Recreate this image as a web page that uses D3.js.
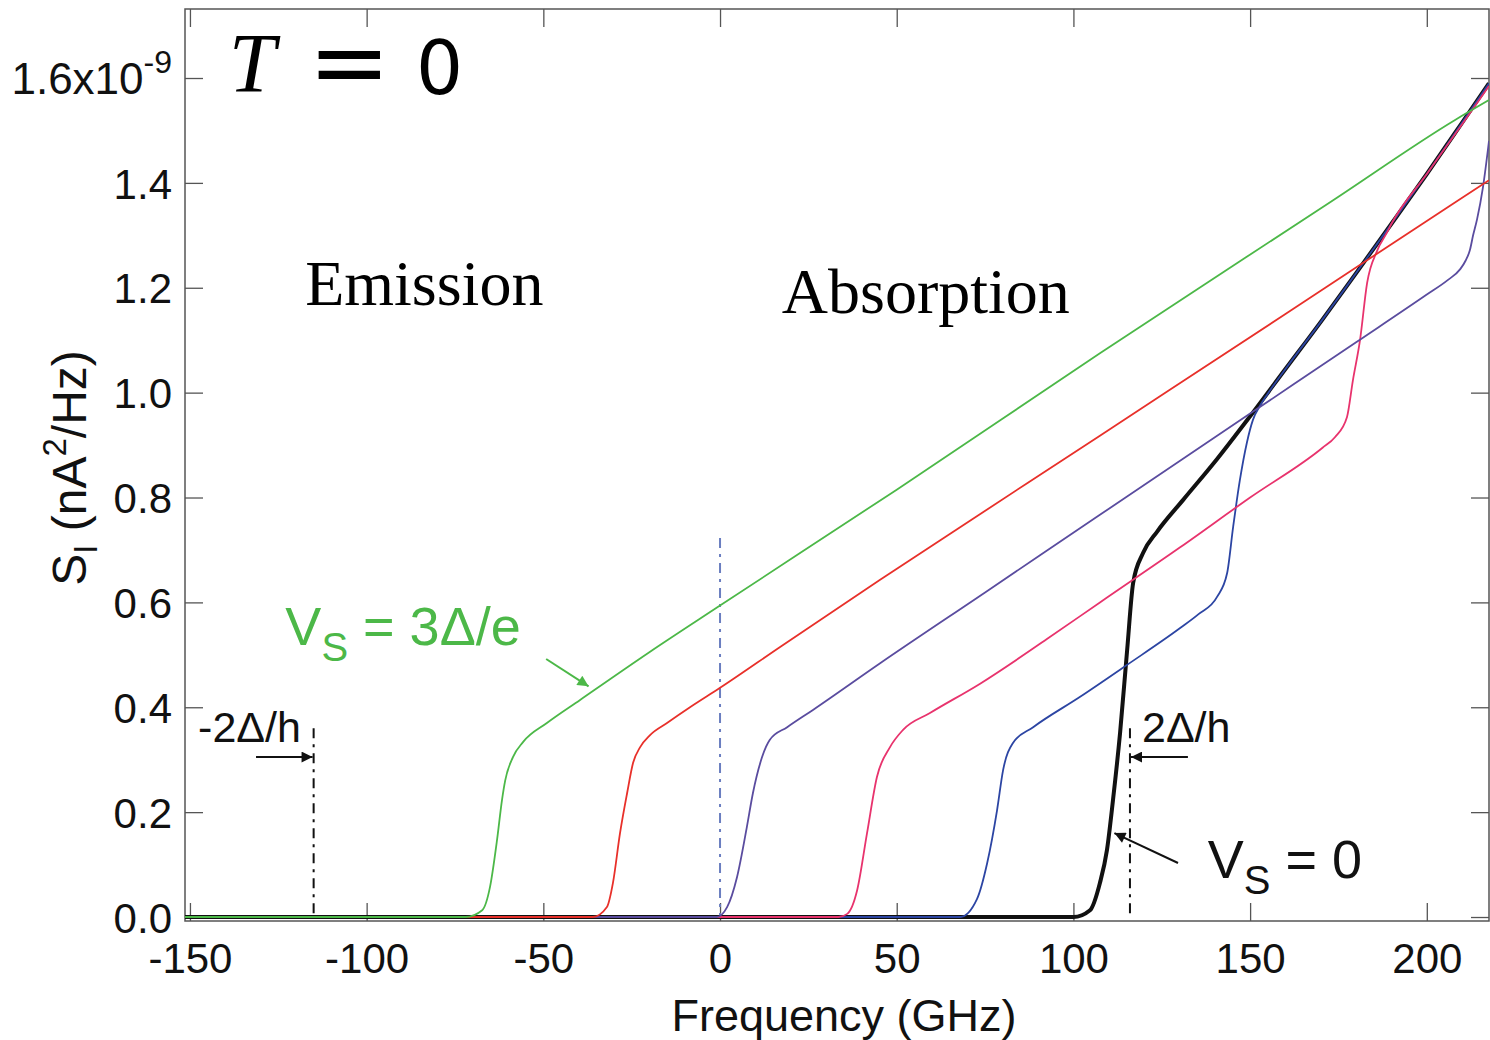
<!DOCTYPE html>
<html>
<head>
<meta charset="utf-8">
<script src="https://cdn.jsdelivr.net/npm/d3@7"></script>
<style>
  html, body { margin: 0; padding: 0; background: #fff; }
  svg { display: block; }
</style>
</head>
<body>
<svg id="chart" width="1490" height="1040"></svg>
<script>
// ---------------- DATA ----------------
const freqTicks = [-150, -100, -50, 0, 50, 100, 150, 200];
const sTicks = [0, 0.2, 0.4, 0.6, 0.8, 1.0, 1.2, 1.4, 1.6];

// S_I (nA^2/Hz, x1e-9) vs frequency (GHz)
const curveBlack = [[-151.4,0],[100,0],[104.7,0.013],[107.5,0.065],[109.5,0.128],[111.2,0.223],[113.2,0.351],[115.2,0.509],[116.9,0.637],[119.7,0.694],[123.7,0.735],[131,0.795],[140.6,0.873],[150,0.955],[160,1.045],[170,1.135],[180,1.228],[190,1.322],[200,1.417],[210,1.515],[217.6,1.59]];
const curveBlue = [[-151.4,0],[68,0],[72.7,0.034],[75.6,0.103],[78.4,0.204],[80.1,0.28],[82.9,0.332],[88.6,0.362],[101.9,0.42],[115,0.48],[130.2,0.551],[135.5,0.578],[140.6,0.61],[143.5,0.656],[145.2,0.744],[147.1,0.833],[149.1,0.905],[150.8,0.948],[152.8,0.975],[155,0.998],[160,1.045],[170,1.135],[180,1.228],[190,1.322],[200,1.417],[210,1.515],[217.6,1.59]];
const curvePink = [[-151.4,0],[33.5,0],[36,0.006],[38.8,0.051],[41.6,0.16],[44.4,0.267],[48.1,0.324],[51.8,0.357],[59.4,0.389],[73.6,0.445],[92.5,0.53],[107.5,0.6],[130.2,0.705],[150,0.8],[170.5,0.895],[174,0.915],[177.4,0.953],[179.1,1.024],[181.1,1.1],[183.1,1.209],[185.9,1.27],[188.7,1.305],[190,1.322],[200,1.417],[210,1.512],[217.6,1.585]];
const curvePurple = [[-151.4,0],[-1,0],[2,0.019],[4.8,0.076],[7.6,0.172],[9.3,0.236],[11.9,0.305],[14.1,0.338],[19,0.362],[26.3,0.395],[45.3,0.484],[75,0.619],[107.5,0.767],[150,0.96],[180,1.096],[200,1.187],[206,1.215],[209.4,1.235],[211,1.252],[212.2,1.272],[213.1,1.3],[214.2,1.33],[215.9,1.392],[217.6,1.48]];
const curveRed = [[-151.4,0],[-36,0],[-32,0.019],[-30.3,0.065],[-28.3,0.16],[-26.3,0.236],[-24.6,0.294],[-22.6,0.324],[-19.8,0.347],[-15,0.37],[-8.5,0.4],[0,0.437],[17,0.515],[45.3,0.643],[107.5,0.918],[160,1.15],[208.5,1.365],[217.6,1.405]];
const curveGreen = [[-151.4,0],[-72,0],[-67.3,0.013],[-65.1,0.057],[-63.1,0.147],[-61.7,0.223],[-60.8,0.26],[-58.6,0.305],[-55.7,0.334],[-49,0.37],[-39.6,0.414],[-20,0.505],[0,0.594],[50,0.815],[107.5,1.075],[173.5,1.367],[208,1.52],[217.6,1.558]];

const seriesOrder = ["black", "blue", "pink", "purple", "red", "green"];
const seriesData = { black: curveBlack, blue: curveBlue, pink: curvePink, purple: curvePurple, red: curveRed, green: curveGreen };
const seriesColor = { black: "#111111", blue: "#2c45a3", pink: "#e8336d", purple: "#5a4c9f", red: "#e8302a", green: "#4cb848" };
const seriesWidth = { black: 4, blue: 1.8, pink: 1.8, purple: 1.8, red: 1.8, green: 1.8 };

// reference lines (GHz) and their top (S units)
const gapLines = [[-115, 0.36], [116, 0.36]];
const zeroLine = [0, 0.723];

// ---------------- LAYOUT ----------------
const svg = d3.select("#chart");
const L = 185, R = 1489, T = 9, B = 921;
const x = d3.scaleLinear().domain([-151.4, 217.6]).range([L, R]);
const y = d3.scaleLinear().domain([-0.0076, 1.7316]).range([B, T]);

const sans = "'Liberation Sans', Arial, Helvetica, sans-serif";
const serif = "'Liberation Serif', 'Times New Roman', serif";
const frameColor = "#555";

// defs: arrow markers
const defs = svg.append("defs");
function marker(id, color) {
  defs.append("marker").attr("id", id).attr("viewBox", "0 0 10 10")
    .attr("refX", 10).attr("refY", 5).attr("markerWidth", 18).attr("markerHeight", 11)
    .attr("markerUnits", "userSpaceOnUse").attr("orient", "auto")
    .append("path").attr("d", "M0,0 L10,5 L0,10 Z").attr("fill", color);
}
marker("arrK", "#111");
marker("arrG", "#4cb848");

const clip = defs.append("clipPath").attr("id", "plotclip");
clip.append("rect").attr("x", L).attr("y", T).attr("width", R - L).attr("height", B - T);

// ---------------- AXES ----------------
const fmtY = d3.format(".1f");
const fmtX = d => String(d); // plain hyphen minus as in the original
const gx = svg.append("g").attr("transform", `translate(0,${B})`)
  .call(d3.axisBottom(x).tickValues(freqTicks).tickSizeInner(-18).tickSizeOuter(0).tickPadding(22).tickFormat(fmtX));
const gxTop = svg.append("g").attr("transform", `translate(0,${T})`)
  .call(d3.axisTop(x).tickValues(freqTicks).tickSizeInner(-18).tickSizeOuter(0).tickFormat(""));
const gy = svg.append("g").attr("transform", `translate(${L},0)`)
  .call(d3.axisLeft(y).tickValues(sTicks).tickSizeInner(-18).tickSizeOuter(0).tickPadding(13).tickFormat(fmtY));
const gyR = svg.append("g").attr("transform", `translate(${R},0)`)
  .call(d3.axisRight(y).tickValues(sTicks).tickSizeInner(-18).tickSizeOuter(0).tickFormat(""));

[gx, gxTop, gy, gyR].forEach(g => {
  g.select(".domain").remove();
  g.selectAll(".tick line").attr("stroke", frameColor).attr("stroke-width", 1.3);
  g.selectAll("text").attr("font-family", sans).attr("font-size", 42).attr("fill", "#111");
});
gy.selectAll(".tick text").attr("dy", "0.36em");

// superscript on the top y label
gy.selectAll(".tick text").filter(d => d === 1.6).each(function () {
  const t = d3.select(this);
  t.text("").attr("font-size", 44);
  t.append("tspan").text("1.6x10");
  t.append("tspan").attr("dy", -21).attr("font-size", 32).text("-9");
});

// frame
svg.append("rect").attr("x", L).attr("y", T).attr("width", R - L).attr("height", B - T)
  .attr("fill", "none").attr("stroke", frameColor).attr("stroke-width", 1.5);

// ---------------- REFERENCE LINES ----------------
const plot = svg.append("g").attr("clip-path", "url(#plotclip)");
gapLines.forEach(([f, top]) => {
  plot.append("line").attr("x1", x(f)).attr("x2", x(f)).attr("y1", y(top)).attr("y2", y(0))
    .attr("stroke", "#111").attr("stroke-width", 2).attr("stroke-dasharray", "10,6,3,6");
});
plot.append("line").attr("x1", x(zeroLine[0])).attr("x2", x(zeroLine[0]))
  .attr("y1", y(zeroLine[1])).attr("y2", y(0))
  .attr("stroke", "#6a7ec0").attr("stroke-width", 2).attr("stroke-dasharray", "10,6,3,6");

// ---------------- CURVES ----------------
const line = d3.line().x(d => x(d[0])).y(d => y(d[1])).curve(d3.curveMonotoneX);
seriesOrder.forEach(k => {
  plot.append("path").datum(seriesData[k]).attr("d", line)
    .attr("fill", "none").attr("stroke", seriesColor[k]).attr("stroke-width", seriesWidth[k])
    .attr("stroke-linejoin", "round");
});

// ---------------- ANNOTATIONS ----------------
function arrow(f1, s1, f2, s2, id, color) {
  svg.append("line").attr("x1", x(f1)).attr("y1", y(s1)).attr("x2", x(f2)).attr("y2", y(s2))
    .attr("stroke", color).attr("stroke-width", 2).attr("marker-end", `url(#${id})`);
}
arrow(-131.3, 0.305, -115.3, 0.305, "arrK", "#111");
arrow(132.4, 0.305, 116.3, 0.305, "arrK", "#111");
arrow(129.6, 0.103, 111.6, 0.16, "arrK", "#111");
arrow(-49.2, 0.492, -37.2, 0.44, "arrG", "#4cb848");

// -2Δ/h
svg.append("text").attr("x", x(-147.7)).attr("y", y(0.334)).attr("font-family", sans)
  .attr("font-size", 43).attr("fill", "#111").text("-2Δ/h");
svg.append("text").attr("x", x(119.4)).attr("y", y(0.334)).attr("font-family", sans)
  .attr("font-size", 43).attr("fill", "#111").text("2Δ/h");

// V_S labels
function vsLabel(f, s, rest, color) {
  const t = svg.append("text").attr("x", x(f)).attr("y", y(s)).attr("font-family", sans)
    .attr("font-size", 54).attr("fill", color);
  t.append("tspan").text("V");
  t.append("tspan").attr("dy", 16).attr("font-size", 40).text("S");
  t.append("tspan").attr("dy", -16).text(" = " + rest);
}
vsLabel(-123, 0.519, "3Δ/e", "#4cb848");
vsLabel(138, 0.074, "0", "#111");

// Emission / Absorption
svg.append("text").attr("x", x(-117.4)).attr("y", y(1.167)).attr("font-family", serif)
  .attr("font-size", 64).attr("fill", "#000").text("Emission");
svg.append("text").attr("x", x(17.5)).attr("y", y(1.152)).attr("font-family", serif)
  .attr("font-size", 64).attr("fill", "#000").text("Absorption");

// T = 0
const tBase = y(1.573);
svg.append("text").attr("x", x(-139)).attr("y", tBase).attr("fill", "#000")
  .attr("font-family", serif).attr("font-style", "italic").attr("font-size", 84).text("T");
svg.append("text").attr("x", x(-116.5)).attr("y", tBase + 4).attr("fill", "#000")
  .attr("font-family", "'DejaVu Sans', sans-serif").attr("font-size", 98).text("=");
svg.append("text").attr("x", x(-86.0)).attr("y", tBase + 2).attr("fill", "#000")
  .attr("font-family", "'DejaVu Sans', sans-serif").attr("font-size", 74).text("0");

// axis titles
svg.append("text").attr("x", 844).attr("y", 1031).attr("text-anchor", "middle")
  .attr("font-family", sans).attr("font-size", 45).attr("fill", "#111").text("Frequency (GHz)");

const yt = svg.append("text").attr("transform", "translate(86,468) rotate(-90)").attr("text-anchor", "middle")
  .attr("font-family", sans).attr("font-size", 48).attr("fill", "#111");
yt.append("tspan").text("S");
yt.append("tspan").attr("dy", 11).attr("font-size", 33).text("I");
yt.append("tspan").attr("dy", -11).text(" (nA");
yt.append("tspan").attr("dy", -20).attr("font-size", 33).text("2");
yt.append("tspan").attr("dy", 20).text("/Hz)");
</script>
</body>
</html>
